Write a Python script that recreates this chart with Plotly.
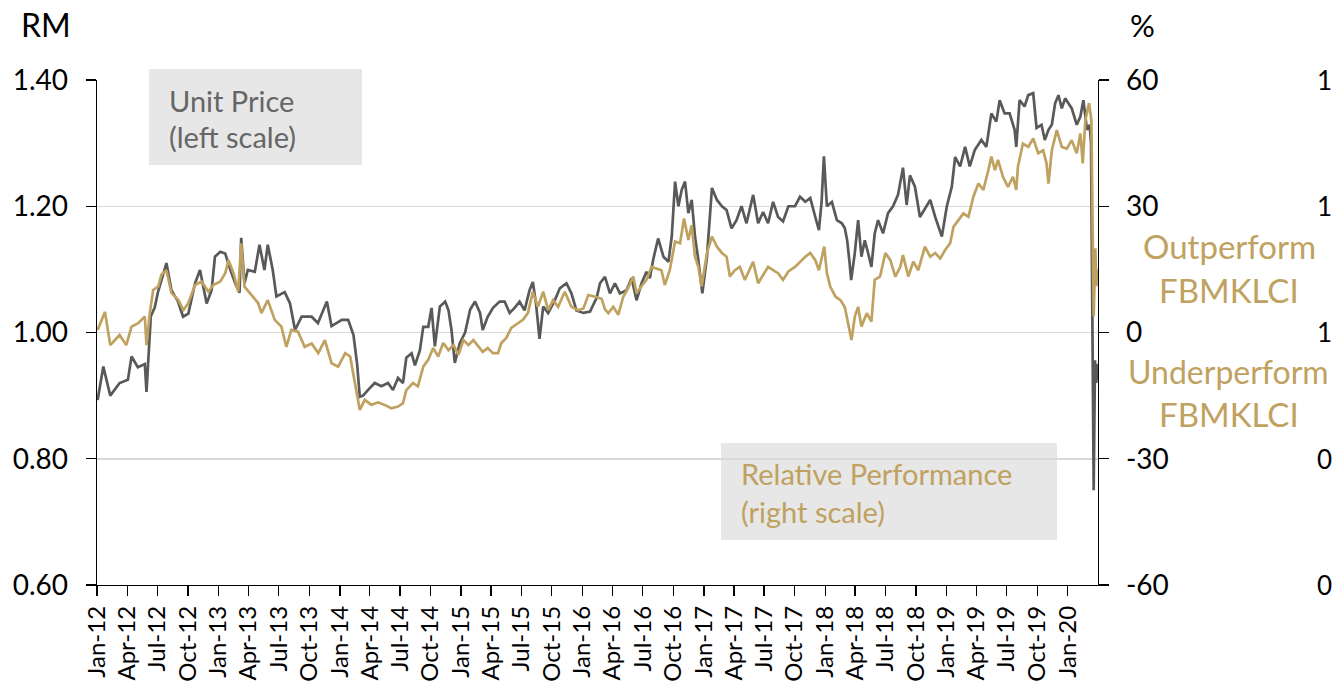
import plotly.graph_objects as go

# ---------------- data ----------------
price_dates = [
 "2012-01-03","2012-01-20","2012-02-10","2012-03-09","2012-04-03","2012-04-14","2012-05-03","2012-05-24","2012-05-29","2012-06-11",
 "2012-06-23","2012-07-02","2012-07-28","2012-08-12","2012-08-31","2012-09-16","2012-10-02","2012-10-22","2012-11-06","2012-11-26",
 "2012-12-11","2012-12-21","2013-01-06","2013-01-21","2013-02-05","2013-02-20","2013-03-05","2013-03-10","2013-03-20","2013-03-30",
 "2013-04-20","2013-05-04","2013-05-19","2013-05-29","2013-06-13","2013-06-24","2013-07-19","2013-08-04","2013-08-19","2013-09-08",
 "2013-10-08","2013-10-27","2013-11-23","2013-12-07","2014-01-07","2014-01-26","2014-02-11","2014-02-22","2014-03-02","2014-03-12",
 "2014-03-27","2014-04-16","2014-05-06","2014-05-26","2014-06-10","2014-06-25","2014-07-10","2014-07-20","2014-08-05","2014-08-15",
 "2014-08-30","2014-09-09","2014-09-24","2014-10-04","2014-10-14","2014-10-29","2014-11-14","2014-11-24","2014-12-03","2014-12-13",
 "2014-12-28","2015-01-13","2015-01-28","2015-02-12","2015-02-27","2015-03-07","2015-03-22","2015-04-07","2015-04-27","2015-05-12",
 "2015-05-27","2015-06-11","2015-06-26","2015-07-11","2015-07-26","2015-08-05","2015-08-15","2015-08-25","2015-09-05","2015-09-20",
 "2015-10-10","2015-10-25","2015-11-14","2015-11-29","2015-12-14","2016-01-04","2016-01-24","2016-02-13","2016-02-23","2016-03-09",
 "2016-03-24","2016-04-08","2016-04-23","2016-05-13","2016-05-28","2016-06-12","2016-06-27","2016-07-12","2016-07-22","2016-08-01",
 "2016-08-16","2016-09-01","2016-09-16","2016-09-26","2016-10-06","2016-10-16","2016-10-26","2016-11-05","2016-11-15","2016-11-25",
 "2016-12-05","2016-12-15","2016-12-27","2017-01-10","2017-01-25","2017-02-09","2017-02-24","2017-03-10","2017-03-25","2017-04-09",
 "2017-04-24","2017-05-09","2017-05-29","2017-06-13","2017-06-28","2017-07-13","2017-07-28","2017-08-12","2017-08-27","2017-09-12",
 "2017-10-02","2017-10-17","2017-11-02","2017-11-17","2017-12-02","2017-12-13","2017-12-21","2017-12-28","2018-01-06","2018-01-21",
 "2018-02-05","2018-02-20","2018-03-01","2018-03-08","2018-03-15","2018-03-20","2018-03-31","2018-04-10","2018-04-20","2018-04-30",
 "2018-05-10","2018-05-20","2018-05-30","2018-06-09","2018-06-24","2018-07-09","2018-07-24","2018-08-08","2018-08-23","2018-09-03",
 "2018-09-13","2018-09-28","2018-10-13","2018-10-28","2018-11-13","2018-11-28","2018-12-18","2019-01-02","2019-01-17","2019-01-27",
 "2019-02-11","2019-02-26","2019-03-12","2019-03-27","2019-04-16","2019-05-01","2019-05-16","2019-05-31","2019-06-10","2019-06-25",
 "2019-07-10","2019-07-25","2019-07-30","2019-08-09","2019-08-24","2019-09-04","2019-09-19","2019-09-29","2019-10-14","2019-10-24",
 "2019-11-04","2019-11-14","2019-11-24","2019-12-04","2019-12-14","2019-12-24","2020-01-03","2020-01-13","2020-01-28","2020-02-08",
 "2020-02-17","2020-02-28","2020-03-07","2020-03-11","2020-03-19","2020-03-23","2020-03-27","2020-03-31",
]
unit_price = [
 0.893,0.946,0.900,0.920,0.925,0.962,0.945,0.950,0.906,1.026,
 1.040,1.063,1.110,1.067,1.050,1.025,1.030,1.078,1.099,1.046,
 1.067,1.120,1.128,1.125,1.100,1.078,1.063,1.150,1.078,1.099,
 1.096,1.139,1.099,1.139,1.099,1.057,1.064,1.046,1.004,1.025,
 1.025,1.015,1.049,1.010,1.020,1.020,0.996,0.950,0.898,0.900,
 0.909,0.920,0.915,0.920,0.909,0.928,0.920,0.960,0.967,0.948,
 0.972,1.009,1.009,1.039,0.978,1.041,1.049,1.035,1.004,0.952,
 0.983,1.000,1.036,1.049,1.031,1.004,1.025,1.039,1.049,1.049,
 1.031,1.039,1.049,1.035,1.067,1.080,1.043,0.990,1.041,1.031,
 1.051,1.070,1.078,1.062,1.035,1.031,1.033,1.055,1.078,1.088,
 1.062,1.078,1.062,1.067,1.086,1.051,1.078,1.096,1.086,1.115,
 1.149,1.120,1.112,1.152,1.239,1.200,1.226,1.239,1.189,1.210,
 1.152,1.115,1.062,1.120,1.229,1.210,1.200,1.194,1.165,1.178,
 1.200,1.173,1.218,1.173,1.191,1.173,1.207,1.183,1.176,1.200,
 1.200,1.215,1.207,1.213,1.183,1.162,1.207,1.279,1.200,1.207,
 1.178,1.173,1.165,1.146,1.112,1.083,1.126,1.178,1.120,1.146,
 1.126,1.104,1.157,1.178,1.157,1.189,1.200,1.218,1.261,1.202,
 1.249,1.231,1.183,1.197,1.210,1.183,1.152,1.200,1.231,1.278,
 1.263,1.294,1.263,1.289,1.305,1.294,1.347,1.334,1.368,1.347,
 1.347,1.321,1.294,1.368,1.358,1.376,1.379,1.324,1.329,1.305,
 1.321,1.329,1.363,1.376,1.355,1.371,1.363,1.355,1.329,1.342,
 1.368,1.321,1.329,1.300,0.750,0.956,0.920,0.950,
]

rel_dates = [
 "2012-01-03","2012-01-25","2012-02-10","2012-02-25","2012-03-09","2012-03-29","2012-04-14","2012-05-04","2012-05-24","2012-05-29",
 "2012-06-08","2012-06-18","2012-07-03","2012-07-13","2012-07-28","2012-08-12","2012-09-02","2012-09-17","2012-10-02","2012-10-22",
 "2012-11-11","2012-12-01","2012-12-16","2013-01-06","2013-01-21","2013-01-31","2013-02-15","2013-03-01","2013-03-10","2013-03-20",
 "2013-04-10","2013-04-30","2013-05-10","2013-05-29","2013-06-19","2013-07-09","2013-07-24","2013-08-08","2013-08-28","2013-09-17",
 "2013-10-08","2013-10-28","2013-11-17","2013-12-07","2013-12-27","2014-01-17","2014-02-01","2014-02-13","2014-03-02","2014-03-17",
 "2014-04-06","2014-04-26","2014-05-16","2014-06-05","2014-06-25","2014-07-10","2014-07-20","2014-08-09","2014-08-24","2014-09-09",
 "2014-09-24","2014-10-09","2014-10-24","2014-11-08","2014-11-24","2014-12-09","2014-12-24","2015-01-08","2015-01-23","2015-02-07",
 "2015-02-22","2015-03-07","2015-03-22","2015-04-07","2015-04-22","2015-05-02","2015-05-17","2015-06-01","2015-06-21","2015-07-06",
 "2015-07-21","2015-08-05","2015-08-20","2015-09-05","2015-09-20","2015-10-05","2015-10-20","2015-11-09","2015-11-29","2015-12-19",
 "2016-01-04","2016-01-19","2016-02-08","2016-02-28","2016-03-09","2016-03-19","2016-04-03","2016-04-18","2016-05-03","2016-05-18",
 "2016-06-02","2016-06-12","2016-06-27","2016-07-12","2016-07-27","2016-08-11","2016-08-26","2016-09-05","2016-09-20","2016-10-06",
 "2016-10-21","2016-11-02","2016-11-15","2016-11-25","2016-12-05","2016-12-15","2016-12-25","2017-01-10","2017-01-25","2017-02-09",
 "2017-02-24","2017-03-10","2017-03-20","2017-04-04","2017-04-19","2017-05-04","2017-05-29","2017-06-13","2017-06-28","2017-07-13",
 "2017-07-28","2017-08-12","2017-08-27","2017-09-12","2017-10-02","2017-10-17","2017-11-02","2017-11-17","2017-12-02","2017-12-13",
 "2017-12-29","2018-01-06","2018-01-16","2018-02-01","2018-02-16","2018-03-01","2018-03-15","2018-03-21","2018-03-31","2018-04-10",
 "2018-04-20","2018-05-06","2018-05-20","2018-05-30","2018-06-15","2018-07-01","2018-07-16","2018-07-31","2018-08-15","2018-08-23",
 "2018-09-08","2018-09-23","2018-10-08","2018-10-28","2018-11-13","2018-11-28","2018-12-13","2018-12-28","2019-01-12","2019-01-22",
 "2019-02-06","2019-02-21","2019-03-08","2019-03-23","2019-04-07","2019-04-22","2019-05-07","2019-05-16","2019-05-27","2019-06-05",
 "2019-06-20","2019-07-05","2019-07-20","2019-07-30","2019-08-04","2019-08-19","2019-09-04","2019-09-19","2019-10-04","2019-10-19",
 "2019-10-29","2019-11-04","2019-11-14","2019-11-29","2019-12-14","2019-12-29","2020-01-13","2020-01-28","2020-02-08","2020-02-15",
 "2020-02-23","2020-03-05","2020-03-12","2020-03-19","2020-03-24","2020-03-27","2020-03-31",
]
rel_perf = [
 0.6,4.9,-3.0,-1.8,-0.6,-3.0,1.4,2.2,3.8,-3.0,
 4.6,10.1,10.9,13.7,14.8,9.4,7.7,5.3,7.0,11.3,
 12.1,9.7,11.3,12.1,14.1,17.2,14.1,9.7,21.2,10.9,
 8.9,7.0,4.6,7.7,3.0,1.4,-3.4,0.6,0.2,-3.4,
 -2.6,-4.9,-1.8,-7.3,-8.1,-4.9,-5.7,-11.3,-18.4,-16.0,
 -17.2,-16.6,-17.2,-18.0,-17.6,-16.8,-13.7,-12.0,-12.8,-8.1,
 -6.5,-3.7,-5.7,-2.5,-4.2,-3.0,-5.3,-1.8,-3.0,-1.8,
 -3.4,-4.6,-3.7,-4.9,-4.9,-2.5,-1.3,1.1,2.2,3.0,
 4.6,9.7,6.1,9.7,5.3,7.7,6.1,9.7,6.1,5.3,
 5.7,8.9,8.5,8.0,5.5,4.6,6.1,4.2,8.5,10.6,
 13.3,9.4,11.0,12.5,15.6,15.2,14.8,11.3,14.8,21.6,
 21.2,27.1,22.0,25.5,18.0,15.6,10.9,18.9,22.8,20.4,
 18.9,18.0,13.3,14.8,15.6,12.5,16.8,11.7,13.7,15.6,
 14.8,14.1,12.5,14.5,15.6,16.8,18.0,18.9,17.2,14.8,
 20.4,14.1,10.9,8.5,7.7,6.0,0.5,-1.8,3.8,6.1,
 1.4,4.6,2.6,12.5,13.3,18.9,17.2,13.3,15.6,18.4,
 13.3,16.8,14.8,20.4,18.0,18.9,17.6,19.6,21.2,25.1,
 26.7,28.3,27.5,32.3,35.4,33.9,38.6,41.8,38.6,41.0,
 37.0,34.6,37.0,33.9,39.4,44.9,44.1,46.1,42.6,43.3,
 40.2,35.4,43.3,48.1,44.1,43.7,45.7,42.6,47.3,40.2,
 50.5,54.5,50.5,3.8,20.0,11.0,15.0,
]

x_tick_dates = [f"{y}-{m:02d}-01" for y in range(2012, 2021) for m in (1, 4, 7, 10)][:33]
x_tick_labels = [f"{mn}-{str(y)[2:]}" for y in range(2012, 2021) for mn in ("Jan", "Apr", "Jul", "Oct")][:33]
left_ticks = [0.60, 0.80, 1.00, 1.20, 1.40]
left_tick_labels = ["0.60", "0.80", "1.00", "1.20", "1.40"]
right_ticks = [-60, -30, 0, 30, 60]
right_tick_labels = ["-60", "-30", "0", "30", "60"]
edge_labels = ["1", "1", "1", "0", "0"]  # fragments of a neighbouring axis at the right edge

# ---------------- styling ----------------
GRAY = "#595959"
GOLD = "#BFA160"
FONT = "Lato"
W, H = 1335, 691
L, R, T, B = 97, 1098, 80, 585    # plot area in pixels


def px(xp):
    return (xp - L) / (R - L)


def py(yp):
    return (B - yp) / (B - T)


fig = go.Figure()
fig.add_trace(go.Scatter(x=price_dates, y=unit_price, mode="lines",
                         line=dict(color=GRAY, width=2.7), name="Unit Price",
                         yaxis="y"))
fig.add_trace(go.Scatter(x=rel_dates, y=rel_perf, mode="lines",
                         line=dict(color=GOLD, width=2.7), name="Relative Performance",
                         yaxis="y2"))

fig.update_layout(
    width=W, height=H,
    margin=dict(l=L, r=W - R, t=T, b=H - B, pad=0, autoexpand=False),
    paper_bgcolor="white", plot_bgcolor="white",
    showlegend=False, hovermode=False,
    font=dict(family=FONT, color="black", size=28),
    xaxis=dict(
        type="date", range=["2012-01-01", "2020-04-01"], automargin=False,
        tickmode="array", tickvals=x_tick_dates, ticktext=x_tick_labels,
        tickangle=-90, ticks="outside", ticklen=10, tickwidth=1.3, tickcolor="black",
        showline=True, linecolor="black", linewidth=1.3,
        showgrid=False, zeroline=False,
        tickfont=dict(family=FONT, size=24, color="black"),
        ticklabelstandoff=0,
    ),
    yaxis=dict(
        range=[0.6, 1.4], automargin=False,
        tickmode="array", tickvals=left_ticks, ticktext=left_tick_labels,
        ticks="outside", ticklen=10, tickwidth=1.3, tickcolor="black",
        showline=True, linecolor="black", linewidth=1.3,
        showgrid=True, gridcolor="#D9D9D9", gridwidth=1.5, zeroline=False,
        tickfont=dict(family=FONT, size=28, color="black"),
        ticklabelstandoff=12,
    ),
    yaxis2=dict(
        range=[-60, 60], automargin=False,
        tickmode="array", tickvals=right_ticks, ticktext=right_tick_labels,
        overlaying="y", side="right",
        ticks="outside", ticklen=10, tickwidth=1.3, tickcolor="black",
        showline=True, linecolor="black", linewidth=1.3,
        showgrid=False, zeroline=False,
        tickfont=dict(family=FONT, size=28, color="black"),
        ticklabelstandoff=11,
    ),
)

# grey label boxes
fig.add_shape(type="rect", xref="paper", yref="paper",
              x0=px(149), x1=px(362), y0=py(165), y1=py(69),
              fillcolor="#E7E7E7", line=dict(width=0), layer="below")
fig.add_shape(type="rect", xref="paper", yref="paper",
              x0=px(721), x1=px(1057), y0=py(540), y1=py(443),
              fillcolor="#E7E7E7", line=dict(width=0), layer="below")

ann = []


def text(s, xp, yp, size, color, xanchor="left"):
    ann.append(dict(text=s, x=px(xp), y=py(yp), xref="paper", yref="paper",
                    xanchor=xanchor, yanchor="middle", showarrow=False,
                    font=dict(family=FONT, size=size, color=color)))


text("RM", 46, 25, 32, "black", "center")
text("%", 1142, 25, 31, "black", "center")
text("Unit Price", 167, 100, 29, "#666666")
text("(left scale)", 167, 136, 29, "#666666")
text("Relative Performance", 739, 473, 29, GOLD)
text("(right scale)", 739, 511, 29, GOLD)
text("Outperform", 1229, 246, 33, GOLD, "center")
text("FBMKLCI", 1229, 290, 33, GOLD, "center")
text("Underperform", 1228, 371, 32, GOLD, "center")
text("FBMKLCI", 1229, 414, 33, GOLD, "center")
for lab, yp in zip(edge_labels, [80, 206, 332, 459, 585]):
    text(lab, 1334, yp, 26, "black", "right")

fig.update_layout(annotations=ann)
fig.write_html("out.html", config={"displayModeBar": False, "staticPlot": True},
               post_script="document.body.style.margin='0px';document.body.style.padding='0px';")
